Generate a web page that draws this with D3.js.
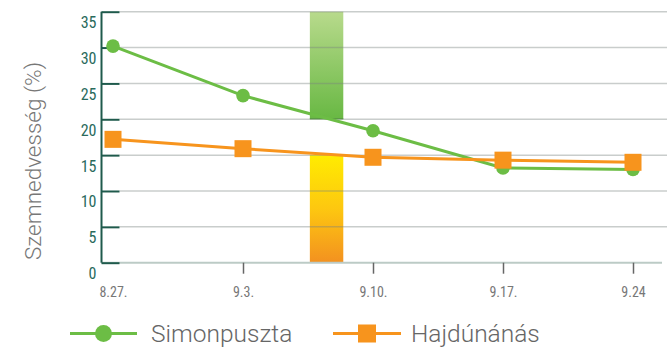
<!DOCTYPE html>
<html>
<head>
<meta charset="utf-8">
<script src="https://cdn.jsdelivr.net/npm/d3@7/dist/d3.min.js"></script>
<style>
  html, body { margin: 0; padding: 0; background: #fff; }
  svg { display: block; }
  .cond { font-family: "Liberation Sans Narrow", "Roboto Condensed", Roboto, sans-serif; }
</style>
</head>
<body>
<svg id="chart" width="667" height="348"></svg>
<script>
// Soil moisture readings (%) on weekly sampling dates
const dateLabels = ["8.27.", "9.3.", "9.10.", "9.17.", "9.24"];
const dayOffsets = [0, 7, 14, 21, 28];
const simonpuszta = [30.2, 23.3, 18.4, 13.2, 13.0];
const hajdunanas = [17.2, 15.9, 14.7, 14.3, 14.0];
const yTicks = [0, 5, 10, 15, 20, 25, 30, 35];
// Reference ranges shown as vertical bands (days after the first date)
const bandDays = [10.6, 12.4];
const upperBand = [20, 35];
const lowerBand = [0, 15];

const svg = d3.select("#chart");
const x = d3.scaleLinear().domain([0, 28]).range([113, 633]);
const y = d3.scaleLinear().domain([0, 35]).range([262.7, 11.7]);
const axisX = 101.5;

const defs = svg.append("defs");
const gGreen = defs.append("linearGradient").attr("id", "gGreen").attr("x1", 0).attr("y1", 0).attr("x2", 0).attr("y2", 1);
gGreen.append("stop").attr("offset", "0%").attr("stop-color", "#b8da8c");
gGreen.append("stop").attr("offset", "100%").attr("stop-color", "#68b843");
const gOrange = defs.append("linearGradient").attr("id", "gOrange").attr("x1", 0).attr("y1", 0).attr("x2", 0).attr("y2", 1);
gOrange.append("stop").attr("offset", "0%").attr("stop-color", "#ffec00");
gOrange.append("stop").attr("offset", "50%").attr("stop-color", "#fdc710");
gOrange.append("stop").attr("offset", "100%").attr("stop-color", "#f39120");

// bands
svg.append("rect")
  .attr("x", x(bandDays[0])).attr("width", x(bandDays[1]) - x(bandDays[0]))
  .attr("y", y(upperBand[1])).attr("height", y(upperBand[0]) - y(upperBand[1]))
  .attr("fill", "url(#gGreen)");
svg.append("line")
  .attr("x1", x(bandDays[0])).attr("x2", x(bandDays[1]))
  .attr("y1", y(upperBand[0]) - 0.5).attr("y2", y(upperBand[0]) - 0.5)
  .attr("stroke", "#4f9a33").attr("stroke-width", 1);
svg.append("rect")
  .attr("x", x(bandDays[0])).attr("width", x(bandDays[1]) - x(bandDays[0]))
  .attr("y", y(lowerBand[1])).attr("height", y(lowerBand[0]) - y(lowerBand[1]))
  .attr("fill", "url(#gOrange)");

// gridlines
svg.append("g").selectAll("line").data(yTicks.filter(d => d > 0)).join("line")
  .attr("x1", axisX + 18).attr("x2", 667)
  .attr("y1", d => y(d)).attr("y2", d => y(d))
  .attr("stroke", "rgba(120,130,128,0.4)").attr("stroke-width", 1.5);

// x baseline
svg.append("line")
  .attr("x1", axisX).attr("x2", 662).attr("y1", y(0)).attr("y2", y(0))
  .attr("stroke", "#bccbc6").attr("stroke-width", 2);

// y axis
const yAxis = d3.axisLeft(y).tickValues(yTicks).tickSize(-18).tickPadding(6).tickFormat(d3.format("d"));
const yg = svg.append("g").attr("transform", `translate(${axisX},0)`).call(yAxis);
yg.select(".domain").attr("stroke", "#1f5a4c").attr("stroke-width", 2).attr("d", `M0,${y(35)}V${y(0)}`);
yg.selectAll(".tick line").attr("stroke", "#1f5a4c").attr("stroke-width", 2);
yg.selectAll(".tick text")
  .attr("class", "cond").attr("fill", "#2a6a5c").attr("font-size", 16)
  .attr("dy", "1.0em").attr("x", -5);

// x axis
const xAxis = d3.axisBottom(x).tickValues(dayOffsets).tickSize(11).tickPadding(13)
  .tickFormat((d, i) => dateLabels[i]);
const xg = svg.append("g").attr("transform", `translate(0,${y(0)})`).call(xAxis);
xg.select(".domain").remove();
xg.selectAll(".tick line").attr("stroke", "#666").attr("stroke-width", 1.5)
  .attr("opacity", (d, i) => i === 0 ? 0 : 1);
xg.selectAll(".tick text").attr("class", "cond").attr("fill", "#777").attr("font-size", 14);

// y title
svg.append("text")
  .attr("transform", "translate(41,161) rotate(-90)")
  .attr("text-anchor", "middle")
  .attr("font-family", "Roboto, sans-serif").attr("font-weight", 300).attr("font-size", 22.5)
  .attr("fill", "#777").text("Szemnedvesség (%)");

// series
const green = "#6cbd45", orange = "#f7941d";
const line = d3.line().x((d, i) => x(dayOffsets[i])).y(d => y(d));
svg.append("path").datum(simonpuszta).attr("d", line)
  .attr("fill", "none").attr("stroke", green).attr("stroke-width", 3);
svg.append("path").datum(hajdunanas).attr("d", line)
  .attr("fill", "none").attr("stroke", orange).attr("stroke-width", 3);
svg.append("g").selectAll("circle").data(simonpuszta).join("circle")
  .attr("cx", (d, i) => x(dayOffsets[i])).attr("cy", d => y(d)).attr("r", 6.8).attr("fill", green);
svg.append("g").selectAll("rect").data(hajdunanas).join("rect")
  .attr("x", (d, i) => x(dayOffsets[i]) - 8.5).attr("y", d => y(d) - 8.5)
  .attr("width", 17).attr("height", 17).attr("fill", orange);

// legend
const lg = svg.append("g");
lg.append("line").attr("x1", 70).attr("x2", 137).attr("y1", 333.5).attr("y2", 333.5).attr("stroke", green).attr("stroke-width", 3);
lg.append("circle").attr("cx", 103.5).attr("cy", 333.5).attr("r", 8.5).attr("fill", green);
lg.append("text").attr("x", 151).attr("y", 342).attr("font-family", "Roboto, sans-serif").attr("font-weight", 300).attr("font-size", 24.5).attr("fill", "#666").text("Simonpuszta");
lg.append("line").attr("x1", 333).attr("x2", 401).attr("y1", 333.5).attr("y2", 333.5).attr("stroke", orange).attr("stroke-width", 3);
lg.append("rect").attr("x", 358).attr("y", 324.5).attr("width", 18).attr("height", 18).attr("fill", orange);
lg.append("text").attr("x", 411).attr("y", 342).attr("font-family", "Roboto, sans-serif").attr("font-weight", 300).attr("font-size", 24.5).attr("fill", "#666").text("Hajdúnánás");
</script>
</body>
</html>
